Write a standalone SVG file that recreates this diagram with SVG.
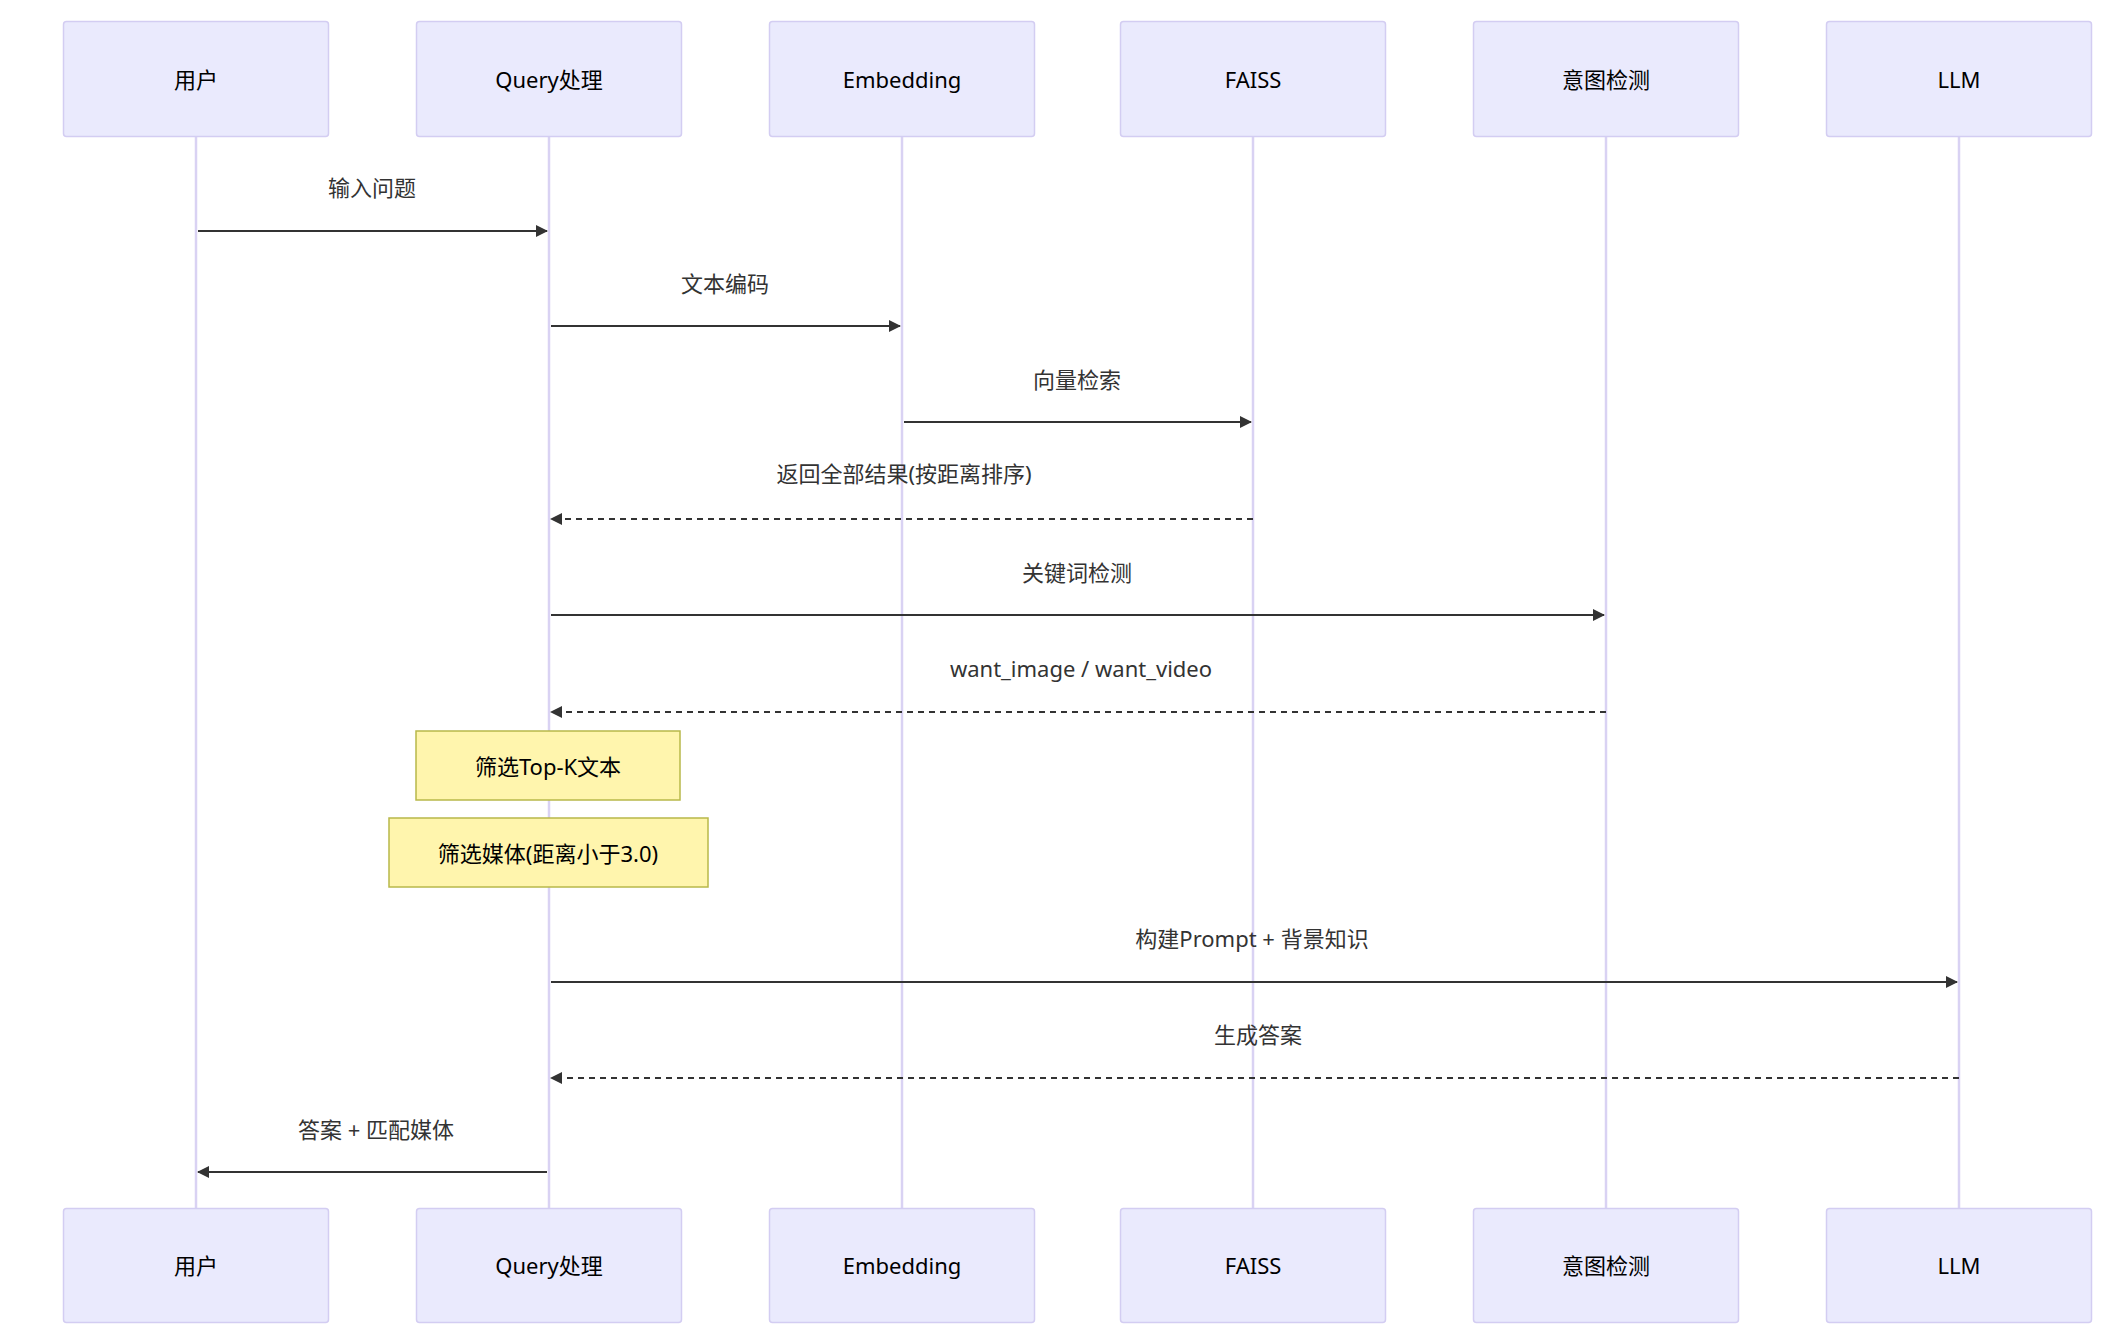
<svg xmlns="http://www.w3.org/2000/svg" width="2109" height="1338" viewBox="0 0 2109 1338">
<style>
.actor{fill:#eaeafd;stroke:#d3cdf2;stroke-width:1.5}
.at{font-family:"Noto Sans","Noto Sans CJK SC",sans-serif;font-size:22px;text-anchor:middle;dominant-baseline:central;fill:#000}
.life{stroke:#d9d2f3;stroke-width:2.5}
.msg{stroke:#333;stroke-width:2.2;fill:none}
.dash{stroke-dasharray:6,5}
.mt{font-family:"Noto Sans","Noto Sans CJK SC",sans-serif;font-size:22px;text-anchor:middle;dominant-baseline:central;fill:#333}
.note{fill:#fff5ad;stroke:#b8b84a;stroke-width:1.5}
</style>
<defs>
<marker id="ah" markerWidth="12" markerHeight="12" refX="11" refY="6" orient="auto" markerUnits="userSpaceOnUse" viewBox="0 0 12 12"><path d="M0,0L12,6L0,12z" fill="#333"/></marker>
</defs>
<g id="lifelines">
<line class="life" x1="196" y1="136" x2="196" y2="1209"/>
<line class="life" x1="549" y1="136" x2="549" y2="1209"/>
<line class="life" x1="902" y1="136" x2="902" y2="1209"/>
<line class="life" x1="1253" y1="136" x2="1253" y2="1209"/>
<line class="life" x1="1606" y1="136" x2="1606" y2="1209"/>
<line class="life" x1="1959" y1="136" x2="1959" y2="1209"/>
</g>
<g id="user"><rect class="actor" x="63.5" y="21.5" width="265" height="115" rx="3"/><text class="at" x="196" y="79">用户</text><rect class="actor" x="63.5" y="1208.5" width="265" height="114" rx="3"/><text class="at" x="196" y="1265">用户</text></g>
<g id="query"><rect class="actor" x="416.5" y="21.5" width="265" height="115" rx="3"/><text class="at" x="549" y="79">Query处理</text><rect class="actor" x="416.5" y="1208.5" width="265" height="114" rx="3"/><text class="at" x="549" y="1265">Query处理</text></g>
<g id="embedding"><rect class="actor" x="769.5" y="21.5" width="265" height="115" rx="3"/><text class="at" x="902" y="79">Embedding</text><rect class="actor" x="769.5" y="1208.5" width="265" height="114" rx="3"/><text class="at" x="902" y="1265">Embedding</text></g>
<g id="faiss"><rect class="actor" x="1120.5" y="21.5" width="265" height="115" rx="3"/><text class="at" x="1253" y="79">FAISS</text><rect class="actor" x="1120.5" y="1208.5" width="265" height="114" rx="3"/><text class="at" x="1253" y="1265">FAISS</text></g>
<g id="intent"><rect class="actor" x="1473.5" y="21.5" width="265" height="115" rx="3"/><text class="at" x="1606" y="79">意图检测</text><rect class="actor" x="1473.5" y="1208.5" width="265" height="114" rx="3"/><text class="at" x="1606" y="1265">意图检测</text></g>
<g id="llm"><rect class="actor" x="1826.5" y="21.5" width="265" height="115" rx="3"/><text class="at" x="1959" y="79">LLM</text><rect class="actor" x="1826.5" y="1208.5" width="265" height="114" rx="3"/><text class="at" x="1959" y="1265">LLM</text></g>
<g id="connectors">
<line class="msg" x1="198" y1="231" x2="547" y2="231" marker-end="url(#ah)"/>
<text class="mt" x="372" y="187">输入问题</text>
<line class="msg" x1="551" y1="326" x2="900" y2="326" marker-end="url(#ah)"/>
<text class="mt" x="725" y="283">文本编码</text>
<line class="msg" x1="904" y1="422" x2="1251" y2="422" marker-end="url(#ah)"/>
<text class="mt" x="1077" y="379">向量检索</text>
<line class="msg dash" x1="1253" y1="519" x2="551" y2="519" marker-end="url(#ah)"/>
<text class="mt" x="904" y="473">返回全部结果(按距离排序)</text>
<line class="msg" x1="551" y1="615" x2="1604" y2="615" marker-end="url(#ah)"/>
<text class="mt" x="1077" y="572">关键词检测</text>
<line class="msg dash" x1="1606" y1="712" x2="551" y2="712" marker-end="url(#ah)"/>
<text class="mt" x="1081" y="668">want_image / want_video</text>
<line class="msg" x1="551" y1="982" x2="1957" y2="982" marker-end="url(#ah)"/>
<text class="mt" x="1252" y="938">构建Prompt + 背景知识</text>
<line class="msg dash" x1="1959" y1="1078" x2="551" y2="1078" marker-end="url(#ah)"/>
<text class="mt" x="1258" y="1034">生成答案</text>
<line class="msg" x1="547" y1="1172" x2="198" y2="1172" marker-end="url(#ah)"/>
<text class="mt" x="376" y="1129">答案 + 匹配媒体</text>
</g>
<g id="note1"><rect class="note" x="416" y="731" width="264" height="69"/><text class="at" x="548" y="766">筛选Top-K文本</text></g>
<g id="note2"><rect class="note" x="389" y="818" width="319" height="69"/><text class="at" x="548" y="853">筛选媒体(距离小于3.0)</text></g>
</svg>
